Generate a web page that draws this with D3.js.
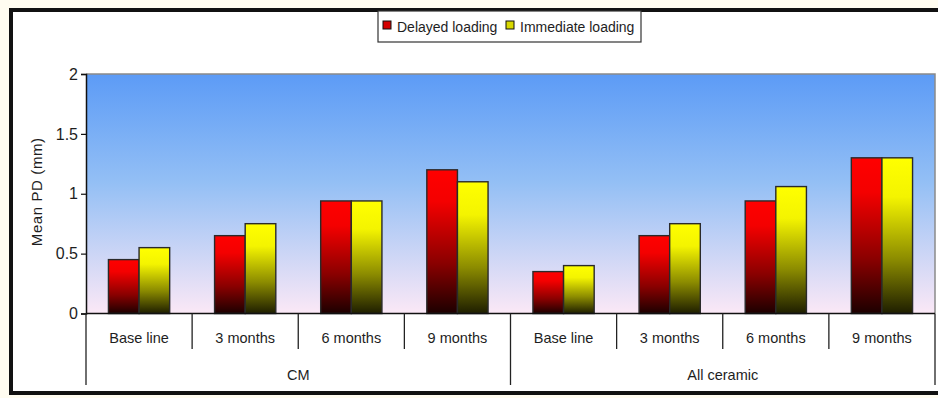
<!DOCTYPE html>
<html>
<head>
<meta charset="utf-8">
<script src="https://cdn.jsdelivr.net/npm/d3@7/dist/d3.min.js"></script>
<style>
  html, body { margin: 0; padding: 0; background: #fffcf0; }
  svg { display: block; }
  text { font-family: "Liberation Sans", Arial, sans-serif; fill: #1e1e1e; }
</style>
</head>
<body>
<svg id="chart" width="938" height="398"></svg>
<script>
// Mean probing depth by loading protocol, restoration type and follow-up time
const groups = ["CM", "All ceramic"];
const periods = ["Base line", "3 months", "6 months", "9 months"];
const seriesNames = ["Delayed loading", "Immediate loading"];
const delayed = [0.45, 0.65, 0.94, 1.2, 0.35, 0.65, 0.94, 1.3];
const immediate = [0.55, 0.75, 0.94, 1.1, 0.4, 0.75, 1.06, 1.3];
const yTicks = [0, 0.5, 1, 1.5, 2];
const yTickLabels = ["0", "0.5", "1", "1.5", "2"];

const svg = d3.select("#chart");
const W = 938, H = 398;
const plot = { left: 86, right: 935, top: 74, bottom: 313.5 };

// Gradients
const defs = svg.append("defs");
function vGrad(id, stops) {
  const g = defs.append("linearGradient").attr("id", id)
    .attr("x1", 0).attr("y1", 0).attr("x2", 0).attr("y2", 1);
  stops.forEach(([o, c]) => g.append("stop").attr("offset", o).attr("stop-color", c));
}
vGrad("bgGrad", [[0, "#5c9bf6"], [0.45, "#93bff5"], [1, "#fbe8f6"]]);
vGrad("redGrad", [[0, "#ff0000"], [0.22, "#f40000"], [0.65, "#8a0000"], [1, "#1c0000"]]);
vGrad("yelGrad", [[0, "#ffff00"], [0.25, "#f4f400"], [0.65, "#8c8c00"], [1, "#1e1e00"]]);
const fills = ["url(#redGrad)", "url(#yelGrad)"];
const swatch = ["#d40000", "#d8d800"];

// Chart area with heavy frame
svg.append("rect").attr("x", 11).attr("y", 10).attr("width", W).attr("height", 383)
  .attr("fill", "#ffffff").attr("stroke", "#111").attr("stroke-width", 4);

// Scales
const cats = d3.range(groups.length * periods.length);
const x = d3.scaleBand().domain(cats).range([plot.left, plot.right]).padding(0);
const xs = d3.scaleBand().domain(d3.range(seriesNames.length))
  .range([0, x.bandwidth()]).paddingInner(0).paddingOuter(0.733);
const y = d3.scaleLinear().domain([0, 2]).range([plot.bottom, plot.top]);

// Plot background
svg.append("rect").attr("x", plot.left).attr("y", plot.top)
  .attr("width", plot.right - plot.left).attr("height", plot.bottom - plot.top)
  .attr("fill", "url(#bgGrad)");
svg.append("path")
  .attr("d", `M${plot.left},${plot.top}H${plot.right}V${plot.bottom}`)
  .attr("fill", "none").attr("stroke", "#8a8a8a").attr("stroke-width", 1.5);

// Bars
const rows = cats.map(i => [delayed[i], immediate[i]]);
const gCat = svg.append("g").selectAll("g").data(rows).join("g")
  .attr("transform", (d, i) => `translate(${x(i)},0)`);
gCat.selectAll("rect").data(d => d).join("rect")
  .attr("x", (d, j) => xs(j))
  .attr("y", d => y(d))
  .attr("width", xs.bandwidth())
  .attr("height", d => y(0) - y(d))
  .attr("fill", (d, j) => fills[j])
  .attr("stroke", "#2a2a2a").attr("stroke-width", 1.4);

// Y axis
const yAxis = d3.axisLeft(y).tickValues(yTicks)
  .tickFormat((d, i) => yTickLabels[i]).tickSize(5).tickPadding(3);
const gy = svg.append("g").attr("transform", `translate(${plot.left},0)`).call(yAxis);
gy.select(".domain").attr("stroke", "#111").attr("stroke-width", 1.5);
gy.selectAll(".tick line").attr("stroke", "#111").attr("stroke-width", 1.2);
gy.selectAll(".tick text").attr("font-size", 16).attr("fill", "#1e1e1e")
  .style("font-family", "'Liberation Sans', Arial, sans-serif");

svg.append("text")
  .attr("transform", `translate(42,${(plot.top + plot.bottom) / 2 - 2}) rotate(-90)`)
  .attr("text-anchor", "middle").attr("font-size", 15)
  .attr("letter-spacing", 0.6)
  .text("Mean PD (mm)");

// Category axis: baseline, period ticks, group ticks
svg.append("line").attr("x1", plot.left).attr("x2", plot.right)
  .attr("y1", plot.bottom).attr("y2", plot.bottom)
  .attr("stroke", "#111").attr("stroke-width", 1.5);
const catBounds = d3.range(cats.length + 1).map(i => i < cats.length ? x(i) : plot.right);
svg.append("g").selectAll("line").data(catBounds).join("line")
  .attr("x1", d => d).attr("x2", d => d)
  .attr("y1", plot.bottom)
  .attr("y2", (d, i) => i % periods.length === 0 ? 385 : 349)
  .attr("stroke", "#222").attr("stroke-width", 1.3);

svg.append("g").selectAll("text").data(cats).join("text")
  .attr("x", i => x(i) + x.bandwidth() / 2).attr("y", 343)
  .attr("text-anchor", "middle").attr("font-size", 14.5)
  .text(i => periods[i % periods.length]);

svg.append("g").selectAll("text").data(groups).join("text")
  .attr("x", (g, gi) => (x(gi * periods.length) + catBounds[(gi + 1) * periods.length]) / 2)
  .attr("y", 380).attr("text-anchor", "middle").attr("font-size", 14.5)
  .text(g => g);

// Legend
const legend = svg.append("g");
legend.append("rect").attr("x", 378).attr("y", 11).attr("width", 263).attr("height", 31)
  .attr("fill", "#fff").attr("stroke", "#333").attr("stroke-width", 1.2);
const legX = [383, 506];
seriesNames.forEach((name, j) => {
  legend.append("rect").attr("x", legX[j]).attr("y", 21).attr("width", 8).attr("height", 8)
    .attr("fill", swatch[j]).attr("stroke", "#111").attr("stroke-width", 1);
  legend.append("text").attr("x", legX[j] + 14).attr("y", 32)
    .attr("font-size", 14).text(name);
});
</script>
</body>
</html>
